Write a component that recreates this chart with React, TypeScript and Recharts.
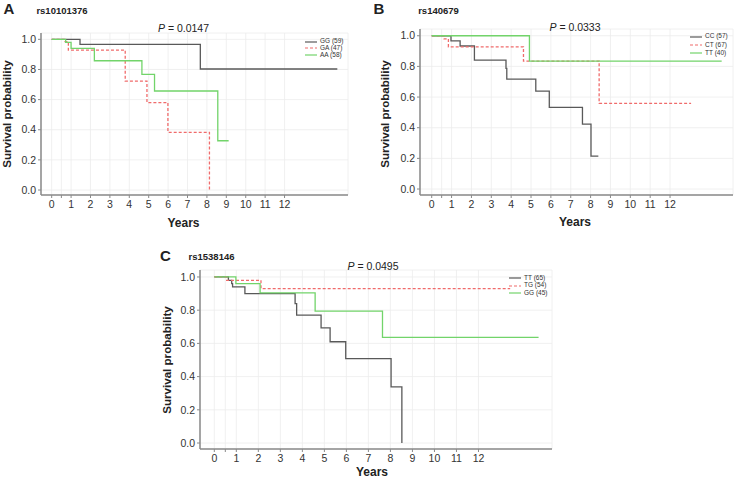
import { LineChart, Line, XAxis, YAxis, CartesianGrid, Legend } from "recharts";

const FONT = '"Liberation Sans", Arial, sans-serif';
const GRAY = "#595959";
const RED = "#f06b6b";
const GREEN = "#72d46a";

const xTicks = [0, 0.5, 1, 2, 3, 4, 5, 6, 7, 8, 9, 10, 11, 12];
const yTicks = [0, 0.2, 0.4, 0.6, 0.8, 1.0];

// Panel A: rs10101376
const aGGTime = [0, 1.46, 7.66, 14.72];
const aGGSurv = [1, 0.966, 0.803, 0.803];
const aGATime = [0, 0.69, 0.86, 3.79, 4.91, 5.99, 8.13];
const aGASurv = [1, 0.985, 0.929, 0.723, 0.58, 0.383, 0];
const aAATime = [0, 0.72, 1.0, 2.2, 4.65, 5.3, 8.56, 9.12];
const aAASurv = [1, 0.98, 0.94, 0.858, 0.768, 0.657, 0.327, 0.327];

// Panel B: rs140679
const bCCTime = [0, 0.97, 1.43, 2.15, 3.74, 3.78, 5.24, 5.92, 7.59, 8.02, 8.39];
const bCCSurv = [1, 0.967, 0.933, 0.841, 0.787, 0.717, 0.639, 0.533, 0.424, 0.215, 0.215];
const bCTTime = [0, 0.62, 0.84, 4.62, 8.43, 13.06];
const bCTSurv = [1, 0.98, 0.928, 0.835, 0.559, 0.559];
const bTTTime = [0, 4.92, 14.6];
const bTTSurv = [1, 0.835, 0.835];

// Panel C: rs1538146
const cTTTime = [0, 0.64, 0.79, 0.83, 1.39, 3.67, 3.74, 4.85, 5.26, 5.97, 8.03, 8.52];
const cTTSurv = [1, 0.98, 0.96, 0.94, 0.9, 0.84, 0.77, 0.694, 0.61, 0.508, 0.338, 0];
const cTGTime = [0, 0.56, 2.12, 13.44];
const cTGSurv = [1, 0.98, 0.93, 0.93];
const cGGTime = [0, 0.98, 2.08, 4.58, 7.64, 14.73];
const cGGSurv = [1, 0.96, 0.904, 0.794, 0.636, 0.636];

const zip = (t: number[], s: number[]) => t.map((x, i) => ({ t: x, s: s[i] }));

type Series = { name: string; color: string; dash?: string; data: { t: number; s: number }[] };

function Txt({ x, y, size, bold, children, rotate }: any) {
  return (
    <div
      style={{
        position: "absolute",
        left: x,
        top: y,
        transform: `translate(-50%, -50%)${rotate ? " rotate(-90deg)" : ""}`,
        fontFamily: FONT,
        fontSize: size,
        fontWeight: bold ? "bold" : "normal",
        color: "#222",
        whiteSpace: "nowrap",
        lineHeight: 1,
      }}
    >
      {children}
    </div>
  );
}

function LegendBox({ series, rowH }: { series: Series[]; rowH: number }) {
  return (
    <div style={{ fontFamily: FONT, fontSize: 6.5, color: "#333" }}>
      {series.map((s) => (
        <div key={s.name} style={{ display: "flex", alignItems: "center", height: rowH }}>
          <svg width={12} height={4} style={{ marginRight: 3 }}>
            <line x1={0} y1={2} x2={12} y2={2} stroke={s.color} strokeWidth={1.2} strokeDasharray={s.dash} />
          </svg>
          <span style={{ lineHeight: 1 }}>{s.name}</span>
        </div>
      ))}
    </div>
  );
}

function Panel(p: {
  left: number;
  top: number;
  width: number;
  height: number;
  margin: { top: number; right: number; bottom: number; left: number };
  xDomain: [number, number];
  yDomain: [number, number];
  series: Series[];
  legend: { left: number; top: number; rowH: number };
}) {
  return (
    <div style={{ position: "absolute", left: p.left, top: p.top }}>
      <LineChart width={p.width} height={p.height} margin={p.margin}>
        <CartesianGrid stroke="#ececec" strokeWidth={0.8} />
        <XAxis
          type="number"
          dataKey="t"
          domain={p.xDomain}
          ticks={xTicks}
          interval={0}
          allowDataOverflow
          height={20}
          tickFormatter={(v: number) => (v === 0.5 ? "" : String(v))}
          tick={{ fill: "#333", fontSize: 10.5, fontFamily: FONT }}
          tickSize={3}
          tickMargin={3}
          axisLine={{ stroke: "#8a8a8a", strokeWidth: 1.5 }}
          tickLine={{ stroke: "#8a8a8a" }}
        />
        <YAxis
          type="number"
          dataKey="s"
          domain={p.yDomain}
          ticks={yTicks}
          interval={0}
          allowDataOverflow
          width={20}
          tickFormatter={(v: number) => v.toFixed(1)}
          tick={{ fill: "#333", fontSize: 10.5, fontFamily: FONT }}
          tickSize={3}
          tickMargin={2}
          axisLine={{ stroke: "#8a8a8a", strokeWidth: 1.5 }}
          tickLine={{ stroke: "#8a8a8a" }}
        />
        {p.series.map((s) => (
          <Line
            key={s.name}
            data={s.data}
            dataKey="s"
            name={s.name}
            type="stepAfter"
            stroke={s.color}
            strokeWidth={1.3}
            strokeDasharray={s.dash}
            dot={false}
            activeDot={false}
            isAnimationActive={false}
          />
        ))}
        <Legend
          layout="vertical"
          align="center"
          verticalAlign="middle"
          wrapperStyle={{ left: p.legend.left, top: p.legend.top, width: 60, height: 30 }}
          content={() => <LegendBox series={p.series} rowH={p.legend.rowH} />}
        />
      </LineChart>
    </div>
  );
}

const seriesA: Series[] = [
  { name: "GG (59)", color: GRAY, data: zip(aGGTime, aGGSurv) },
  { name: "GA (47)", color: RED, dash: "3 2", data: zip(aGATime, aGASurv) },
  { name: "AA (58)", color: GREEN, data: zip(aAATime, aAASurv) },
];
const seriesB: Series[] = [
  { name: "CC (57)", color: GRAY, data: zip(bCCTime, bCCSurv) },
  { name: "CT (67)", color: RED, dash: "3 2", data: zip(bCTTime, bCTSurv) },
  { name: "TT (40)", color: GREEN, data: zip(bTTTime, bTTSurv) },
];
const seriesC: Series[] = [
  { name: "TT (65)", color: GRAY, data: zip(cTTTime, cTTSurv) },
  { name: "TG (54)", color: RED, dash: "3 2", data: zip(cTGTime, cTGSurv) },
  { name: "GG (45)", color: GREEN, data: zip(cGGTime, cGGSurv) },
];

export default function App() {
  return (
    <div style={{ position: "absolute", left: 0, top: 0, width: 734, height: 480, background: "#fff", overflow: "hidden" }}>
      <Panel
        left={0}
        top={0}
        width={370}
        height={240}
        margin={{ top: 33, right: 22, bottom: 25, left: 21 }}
        xDomain={[-0.55, 15.27]}
        yDomain={[-0.033, 1.042]}
        series={seriesA}
        legend={{ left: 305, top: 38.4, rowH: 6.7 }}
      />
      <Panel
        left={370}
        top={0}
        width={364}
        height={240}
        margin={{ top: 29, right: 1, bottom: 25, left: 30 }}
        xDomain={[-0.59, 15.17]}
        yDomain={[-0.039, 1.044]}
        series={seriesB}
        legend={{ left: 320, top: 32.5, rowH: 8.3 }}
      />
      <Panel
        left={150}
        top={240}
        width={440}
        height={240}
        margin={{ top: 30, right: 38, bottom: 11, left: 30 }}
        xDomain={[-0.65, 15.34]}
        yDomain={[-0.036, 1.042]}
        series={seriesC}
        legend={{ left: 359, top: 34.6, rowH: 7.3 }}
      />

      <Txt x={9} y={8} size={15} bold>A</Txt>
      <Txt x={62} y={11} size={9.5} bold>rs10101376</Txt>
      <Txt x={183.5} y={28.3} size={10.5}><i>P</i> = 0.0147</Txt>
      <Txt x={183.5} y={223} size={12} bold>Years</Txt>
      <Txt x={7} y={114} size={11.6} bold rotate>Survival probability</Txt>

      <Txt x={379} y={8} size={15} bold>B</Txt>
      <Txt x={438.5} y={11} size={9.5} bold>rs140679</Txt>
      <Txt x={575} y={27} size={10.5}><i>P</i> = 0.0333</Txt>
      <Txt x={575} y={222} size={12} bold>Years</Txt>
      <Txt x={385} y={114} size={11.6} bold rotate>Survival probability</Txt>

      <Txt x={165.5} y={255} size={15} bold>C</Txt>
      <Txt x={211.5} y={257} size={9.5} bold>rs1538146</Txt>
      <Txt x={373} y={266} size={10.5}><i>P</i> = 0.0495</Txt>
      <Txt x={372} y={472} size={12} bold>Years</Txt>
      <Txt x={167} y={360} size={11.6} bold rotate>Survival probability</Txt>
    </div>
  );
}
